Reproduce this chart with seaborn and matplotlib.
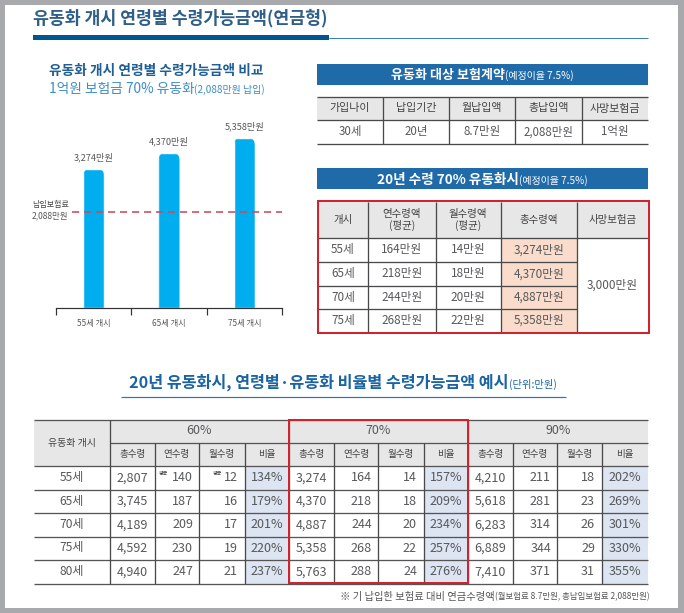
import numpy as np
import pandas as pd
import matplotlib
matplotlib.use("Agg")
import matplotlib.pyplot as plt
from matplotlib.patches import Rectangle, FancyBboxPatch
import seaborn as sns

# ---- data ----
bar_categories = ["55세 개시", "65세 개시", "75세 개시"]
bar_values = [3274, 4370, 5358]
bar_labels = ["3,274만원", "4,370만원", "5,358만원"]
paid_premium = 2088

contract_head = ["가입나이", "납입기간", "월납입액", "총납입액", "사망보험금"]
contract_row = ["30세", "20년", "8.7만원", "2,088만원", "1억원"]

t2_head = ["개시", "연수령액\n(평균)", "월수령액\n(평균)", "총수령액", "사망보험금"]
t2_age = ["55세", "65세", "70세", "75세"]
t2_year = ["164만원", "218만원", "244만원", "268만원"]
t2_month = ["14만원", "18만원", "20만원", "22만원"]
t2_total = ["3,274만원", "4,370만원", "4,887만원", "5,358만원"]
t2_death = "3,000만원"

t3_age = ["55세", "65세", "70세", "75세", "80세"]
t3_groups = ["60%", "70%", "90%"]
t3_sub = ["총수령", "연수령", "월수령", "비율"]
total_60 = ["2,807", "3,745", "4,189", "4,592", "4,940"]
year_60 = [140, 187, 209, 230, 247]
month_60 = [12, 16, 17, 19, 21]
ratio_60 = ["134%", "179%", "201%", "220%", "237%"]
total_70 = ["3,274", "4,370", "4,887", "5,358", "5,763"]
year_70 = [164, 218, 244, 268, 288]
month_70 = [14, 18, 20, 22, 24]
ratio_70 = ["157%", "209%", "234%", "257%", "276%"]
total_90 = ["4,210", "5,618", "6,283", "6,889", "7,410"]
year_90 = [211, 281, 314, 344, 371]
month_90 = [18, 23, 26, 29, 31]
ratio_90 = ["202%", "269%", "301%", "330%", "355%"]

# ---- style ----
sns.set_theme(style="white")
FONT = ["Noto Sans CJK KR", "DejaVu Sans"]
plt.rcParams["font.family"] = FONT
W, H = 684, 613
PX = 72 / 100  # points per pixel
GREY = "#a7a9ac"
DARK = "#48494b"
TXT = "#56585a"
HEAD = "#e7e7e8"
BAND = "#1f6aa8"
RED = "#d2222d"
PINK = "#f9dccb"
LBLUE = "#dde5f2"
NAVY = "#0b5a96"

fig = plt.figure(figsize=(W / 100, H / 100), dpi=100, facecolor=GREY)
ov = fig.add_axes([0, 0, 1, 1], zorder=0)
ov.set_xlim(0, W)
ov.set_ylim(H, 0)
ov.axis("off")
ov.add_patch(Rectangle((5, 5), 673, 603, fc="white", ec="none", zorder=0))
renderer = fig.canvas.get_renderer()


def T(x, y, s, px=10.5, c=TXT, w="normal", ha="center", va="center", z=6):
    return ov.text(x, y, s, fontsize=px * PX, color=c, fontweight=w, ha=ha, va=va,
                   zorder=z, family=FONT, linespacing=1.15)


def mixed(xc, y, parts, c):
    """Centre a run of differently sized pieces on xc."""
    items = [T(0, y, s, px, c, w, ha="left", va="baseline") for s, px, w in parts]
    widths = [it.get_window_extent(renderer).width for it in items]
    x = xc - sum(widths) / 2
    for it, wd in zip(items, widths):
        it.set_x(x)
        x += wd


def box(x0, y0, x1, y1, fc):
    ov.add_patch(Rectangle((x0, y0), x1 - x0, y1 - y0, fc=fc, ec="none", zorder=1))


def hl(y, x0, x1, c=DARK, px=1.3, z=3):
    ov.plot([x0, x1], [y, y], color=c, lw=px * PX, solid_capstyle="butt", zorder=z)


def vl(x, y0, y1, c=DARK, px=1.3, z=3):
    ov.plot([x, x], [y0, y1], color=c, lw=px * PX, solid_capstyle="butt", zorder=z)


def redbox(x0, y0, x1, y1):
    ov.add_patch(Rectangle((x0, y0), x1 - x0, y1 - y0, fc="none", ec=RED, lw=2 * PX, zorder=5))


# ---- main title ----
T(33, 18, "유동화 개시 연령별 수령가능금액(연금형)", 17.3, "#2f5f86", "bold", ha="left")
box(33, 35, 329, 40, "#00578f")
hl(38, 329, 648, "#3f7fae", 1)

# ---- left chart ----
T(156.5, 71, "유동화 개시 연령별 수령가능금액 비교", 13.7, "#1f5f95", "bold")
mixed(157, 93, [("1억원 보험금 70% 유동화", 13.7, "normal"), ("(2,088만원 납입)", 10, "normal")], "#3d8cc7")

knots_v = [0, paid_premium, 3274, 4370, 5358, 6000]
knots_h = [0, 96, 139, 155, 170, 188]  # the original's bars are not drawn to a linear scale
ax = fig.add_axes([56 / W, (H - 308) / H, 226 / W, 188 / H], zorder=1)
ax.patch.set_visible(False)
df = pd.DataFrame({"age": bar_categories, "amount": bar_values})
sns.barplot(data=df, x="age", y="amount", color="#00aeef", saturation=1, width=0.28, ax=ax)
ax.set_yscale("function", functions=(lambda v: np.interp(v, knots_v, knots_h),
                                     lambda h: np.interp(h, knots_h, knots_v)))
ax.set_ylim(0, 6000)
ax.set_xlim(-0.5, 2.5)
ax.set_xlabel("")
ax.set_ylabel("")
ax.set_yticks([])
ax.minorticks_off()
ax.set_xticks([-0.5, 0.5, 1.5, 2.5], labels=["", "", "", ""])
ax.set_xticks([0, 1, 2], labels=bar_categories, minor=True)
ax.tick_params(axis="x", which="major", bottom=True, length=7 * PX, width=1.2 * PX,
               color="#333333", direction="out")
ax.tick_params(axis="x", which="minor", bottom=True, length=0, pad=11 * PX, labelsize=8.2 * PX, labelcolor=TXT)
ax.yaxis.set_tick_params(which="both", length=0)
for name in ("top", "left", "right"):
    ax.spines[name].set_visible(False)
ax.spines["bottom"].set_color("#333333")
ax.spines["bottom"].set_linewidth(1.2 * PX)
ax.axhline(paid_premium, xmin=16 / 226, xmax=1.0, color="#c4505e", lw=1.6 * PX, dashes=(4.5, 3), zorder=5)
ax.bar_label(ax.containers[0], labels=bar_labels, padding=7 * PX, fontsize=9.2 * PX, color=TXT, family=FONT)
to_ov = ax.transData + ov.transData.inverted()
for bar in ax.containers[0]:
    (xa, ya), (xb, yb) = to_ov.transform([(bar.get_x(), bar.get_height()),
                                          (bar.get_x() + bar.get_width(), 0)])
    clip = FancyBboxPatch((xa, ya), xb - xa, yb - ya + 20, boxstyle="round,pad=0,rounding_size=7",
                          transform=ov.transData)
    bar.set_clip_path(clip)
T(32, 205, "납입보험료", 8, "#444444", ha="left")
T(32, 216, "2,088만원", 8.5, TXT, ha="left")

# ---- contract table ----
box(316.5, 64, 648, 84.5, BAND)
mixed(482, 79, [("유동화 대상 보험계약", 13, "bold"), ("(예정이율 7.5%)", 10, "normal")], "white")
c1 = [317, 383, 449, 515, 581.5, 648]
box(c1[0], 97, c1[-1], 120, HEAD)
for y in (96.5, 120, 143.5):
    hl(y, c1[0], c1[-1])
for x in c1[1:-1]:
    vl(x, 96.5, 143.5)
for i in range(5):
    xc = (c1[i] + c1[i + 1]) / 2
    T(xc, 108.5, contract_head[i], 11, "#444444")
    T(xc, 132, contract_row[i], 11.5)

# ---- 70% table ----
box(316.5, 168, 648, 189, BAND)
mixed(482, 184, [("20년 수령 70% 유동화시", 13.6, "bold"), ("(예정이율 7.5%)", 10, "normal")], "white")
c2 = [318, 368, 435.5, 500.5, 577, 648]
r2 = [202, 238, 262, 285.5, 308.5, 332]
box(c2[0], r2[0], c2[-1], r2[1], HEAD)
box(c2[3], r2[1], c2[4], r2[-1], PINK)
for y in r2[1:-1]:
    hl(y, c2[0], c2[4])
hl(r2[1], c2[4], c2[5])
for x in c2[1:-1]:
    vl(x, r2[0], r2[-1])
for i in range(5):
    T((c2[i] + c2[i + 1]) / 2, (r2[0] + r2[1]) / 2, t2_head[i], 10.5, "#444444")
for j in range(4):
    y = (r2[j + 1] + r2[j + 2]) / 2
    for i, col in enumerate((t2_age, t2_year, t2_month, t2_total)):
        T((c2[i] + c2[i + 1]) / 2, y, col[j], 11.7)
T((c2[4] + c2[5]) / 2, (r2[1] + r2[-1]) / 2, t2_death, 11.7)
redbox(318, 201, 649, 332.5)

# ---- lower table ----
mixed(343, 388, [("20년 유동화시, 연령별·유동화 비율별 수령가능금액 예시", 16.2, "bold"),
                 ("(단위:만원)", 10.3, "normal")], "#1a64a4")
hl(397, 121, 566, "#2a78b5", 1.2)

c3 = [34, 109.5, 155, 199, 245, 288.5, 334, 378, 424, 468, 513, 557, 602, 648]
r3 = [419.5, 442.5, 466, 489.5, 513, 536.5, 559.5, 584]
box(c3[0], r3[0], c3[-1], r3[2], HEAD)
for k in (4, 8, 12):
    box(c3[k], r3[2], c3[k + 1], r3[-1], LBLUE)
for y in r3[:1] + r3[2:]:
    hl(y, c3[0], c3[-1], "#555555")
hl(r3[1], c3[1], c3[-1], "#555555")
for x in c3[1:-1]:
    vl(x, r3[1] if x not in (c3[1], c3[5], c3[9]) else r3[0], r3[-1])
T((c3[0] + c3[1]) / 2, (r3[0] + r3[2]) / 2, "유동화 개시", 10, "#444444")
for g, name in enumerate(t3_groups):
    a = 1 + g * 4
    T((c3[a] + c3[a + 4]) / 2, (r3[0] + r3[1]) / 2, name, 12.5)
    for s in range(4):
        T((c3[a + s] + c3[a + s + 1]) / 2, (r3[1] + r3[2]) / 2, t3_sub[s], 9.5, "#444444")

series = [(total_60, year_60, month_60, ratio_60),
          (total_70, year_70, month_70, ratio_70),
          (total_90, year_90, month_90, ratio_90)]
for j, age in enumerate(t3_age):
    y = (r3[j + 2] + r3[j + 3]) / 2
    T((c3[0] + c3[1]) / 2, y, age, 12)
    for g, (tot, yr, mo, ra) in enumerate(series):
        a = 1 + g * 4
        T((c3[a] + c3[a + 1]) / 2, y, tot[j], 12.6)
        T(c3[a + 2] - 6, y, str(yr[j]), 12.6, ha="right")
        T(c3[a + 3] - 7, y, str(mo[j]), 12.6, ha="right")
        T((c3[a + 3] + c3[a + 4]) / 2, y, ra[j], 12.6)
T(163, 473.5, "평균", 5, "#444444")
T(217, 473.5, "평균", 5, "#444444")
redbox(289, 419.5, 468, 583)
T(495, 597, "※ 기 납입한 보험료 대비 연금수령액", 10.3, "#555555", ha="right")
T(495, 597, "(월보험료 8.7만원, 총납입보험료 2,088만원)", 8.4, "#555555", ha="left")

fig.savefig("out.png", dpi=100, facecolor=GREY)
